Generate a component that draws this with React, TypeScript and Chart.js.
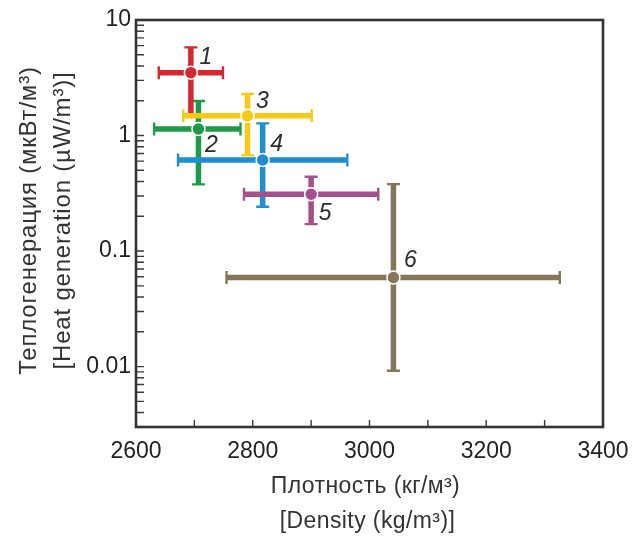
import React, { useEffect, useRef } from "react";
import { Chart, registerables } from "chart.js";

Chart.register(...registerables);

// ---- data ----
const groupLabels = ["1", "2", "3", "4", "5", "6"];
const densityMean = [2694, 2707, 2791, 2817, 2900, 3041];
const densityLow = [2639, 2631, 2681, 2672, 2785, 2755];
const densityHigh = [2749, 2779, 2901, 2962, 3015, 3326];
const heatMean = [3.5, 1.14, 1.48, 0.614, 0.31, 0.059];
const heatLow = [1.5, 0.378, 0.674, 0.242, 0.171, 0.0092];
const heatHigh = [5.8, 1.99, 2.29, 1.275, 0.44, 0.38];
const groupColors = ["#d7282f", "#1f9a4b", "#f6c917", "#1e8fd5", "#a54f8d", "#857659"];

const xTickLabels = ["2600", "2800", "3000", "3200", "3400"];
const yTickLabels = ["10", "1", "0.1", "0.01"];
const decades = [0.001, 0.01, 0.1, 1];
const multipliers = [1, 2, 3, 4, 5, 6, 7, 8, 9];

const xTitle = ["Плотность (кг/м³)", "[Density (kg/m³)]"];
const yTitle = ["Теплогенерация (мкВт/м³)", "[Heat generation (µW/m³)]"];

// label offsets (style), in px relative to point
const labelOffsets = [
  [15, -15], [13, 17], [15, -14], [14, -15], [14, 19], [17, -17],
];

const FONT = "'Liberation Sans', Arial, sans-serif";
const drawOrder = [1, 0, 2, 3, 4, 5];

export default function App() {
  const ref = useRef<HTMLCanvasElement | null>(null);

  useEffect(() => {
    document.body.style.margin = "0";
    const canvas = ref.current;
    if (!canvas) return;

    const yMin = 0.003;
    const yTicks: number[] = [];
    decades.forEach((d) =>
      multipliers.forEach((m) => {
        const v = +(d * m).toPrecision(3);
        if (v >= yMin - 1e-9) yTicks.push(v);
      })
    );
    yTicks.push(10);

    const plugin = {
      id: "custom",
      beforeDatasetsDraw(chart: any) {
        const { ctx, scales } = chart;
        const xs = scales.x;
        const ys = scales.y;
        ctx.save();
        drawOrder.forEach((i) => {
          const c = groupColors[i];
          const px = xs.getPixelForValue(densityMean[i]);
          const py = ys.getPixelForValue(heatMean[i]);
          const x0 = xs.getPixelForValue(densityLow[i]);
          const x1 = xs.getPixelForValue(densityHigh[i]);
          const y0 = ys.getPixelForValue(heatLow[i]);
          const y1 = ys.getPixelForValue(heatHigh[i]);
          ctx.strokeStyle = c;
          ctx.lineCap = "butt";
          ctx.lineWidth = 5.5;
          ctx.beginPath();
          ctx.moveTo(x0, py);
          ctx.lineTo(x1, py);
          ctx.moveTo(px, y0);
          ctx.lineTo(px, y1);
          ctx.stroke();
          ctx.lineWidth = 2.4;
          ctx.beginPath();
          ctx.moveTo(x0, py - 6.5);
          ctx.lineTo(x0, py + 6.5);
          ctx.moveTo(x1, py - 6.5);
          ctx.lineTo(x1, py + 6.5);
          ctx.moveTo(px - 6.5, y0);
          ctx.lineTo(px + 6.5, y0);
          ctx.moveTo(px - 6.5, y1);
          ctx.lineTo(px + 6.5, y1);
          ctx.stroke();
        });
        ctx.restore();
      },
      afterDatasetsDraw(chart: any) {
        const { ctx, scales, chartArea } = chart;
        const xs = scales.x;
        const ys = scales.y;
        ctx.save();
        // point labels
        ctx.fillStyle = "#2b2b2b";
        ctx.font = `italic 23px ${FONT}`;
        ctx.textAlign = "center";
        ctx.textBaseline = "middle";
        groupLabels.forEach((t, i) => {
          const px = xs.getPixelForValue(densityMean[i]);
          const py = ys.getPixelForValue(heatMean[i]);
          ctx.fillText(t, px + labelOffsets[i][0], py + labelOffsets[i][1]);
        });
        // ticks inward
        ctx.strokeStyle = "#3a3a3a";
        ctx.lineWidth = 1.4;
        ctx.beginPath();
        ys.ticks.forEach((t: any) => {
          const y = ys.getPixelForValue(t.value);
          if (y <= chartArea.top + 1 || y >= chartArea.bottom - 1) return;
          ctx.moveTo(chartArea.left, y);
          ctx.lineTo(chartArea.left + 8, y);
        });
        xs.ticks.forEach((t: any) => {
          const x = xs.getPixelForValue(t.value);
          if (x <= chartArea.left + 1 || x >= chartArea.right - 1) return;
          ctx.moveTo(x, chartArea.bottom);
          ctx.lineTo(x, chartArea.bottom - 7);
        });
        ctx.stroke();
        // frame
        ctx.strokeStyle = "#333";
        ctx.lineWidth = 2.6;
        ctx.strokeRect(
          chartArea.left,
          chartArea.top,
          chartArea.right - chartArea.left,
          chartArea.bottom - chartArea.top
        );
        // titles
        ctx.fillStyle = "#333";
        ctx.font = `23px ${FONT}`;
        ctx.textAlign = "center";
        ctx.textBaseline = "middle";
        (ctx as any).letterSpacing = "0.4px";
        const cx = (chartArea.left + chartArea.right) / 2;
        ctx.fillText(xTitle[0], cx - 4, 487);
        ctx.fillText(xTitle[1], cx - 2, 522);
        const cy = (chartArea.top + chartArea.bottom) / 2;
        ctx.font = `24px ${FONT}`;
        (ctx as any).letterSpacing = "0.8px";
        ctx.save();
        ctx.translate(29, cy - 3);
        ctx.rotate(-Math.PI / 2);
        ctx.fillText(yTitle[0], 0, 0);
        ctx.restore();
        ctx.save();
        ctx.translate(63, cy - 3);
        ctx.rotate(-Math.PI / 2);
        ctx.fillText(yTitle[1], 0, 0);
        ctx.restore();
        ctx.restore();
      },
    };

    const chart = new Chart(canvas, {
      type: "scatter",
      data: {
        datasets: [
          {
            data: densityMean.map((x, i) => ({ x, y: heatMean[i] })),
            pointRadius: 6.5,
            pointHoverRadius: 6.5,
            pointBackgroundColor: groupColors,
            pointBorderColor: "#ffffff",
            pointBorderWidth: 1.5,
            showLine: false,
          },
        ],
      },
      options: {
        animation: false,
        responsive: false,
        events: [],
        layout: { padding: { left: 0, top: 20, right: 30, bottom: 0 } },
        plugins: { legend: { display: false }, tooltip: { enabled: false } },
        scales: {
          x: {
            type: "linear",
            min: 2600,
            max: 3400,
            grid: { display: false, drawTicks: false },
            border: { display: false },
            ticks: {
              stepSize: 100,
              autoSkip: false,
              maxRotation: 0,
              padding: 11,
              color: "#222",
              font: { family: FONT, size: 23 },
              callback: (v: any) => {
                const s = String(v);
                return xTickLabels.includes(s) ? s : "";
              },
            },
            afterFit: (s: any) => {
              s.height = 111;
              s.paddingLeft = 0;
              s.paddingRight = 0;
            },
          },
          y: {
            type: "logarithmic",
            min: yMin,
            max: 10,
            grid: { display: false, drawTicks: false },
            border: { display: false },
            afterBuildTicks: (s: any) => {
              s.ticks = yTicks.map((v) => ({ value: v }));
            },
            ticks: {
              autoSkip: false,
              padding: 5,
              color: "#222",
              font: { family: FONT, size: 23 },
              callback: (v: any) => {
                const s = String(+Number(v).toPrecision(3));
                return yTickLabels.includes(s) ? s : "";
              },
            },
            afterFit: (s: any) => {
              s.width = 136;
              s.paddingTop = 0;
              s.paddingBottom = 0;
            },
          },
        },
      },
      plugins: [plugin],
    } as any);

    return () => chart.destroy();
  }, []);

  return (
    <div style={{ width: 633, height: 538 }}>
      <canvas ref={ref} width={633} height={538} style={{ width: 633, height: 538, display: "block" }} />
    </div>
  );
}
